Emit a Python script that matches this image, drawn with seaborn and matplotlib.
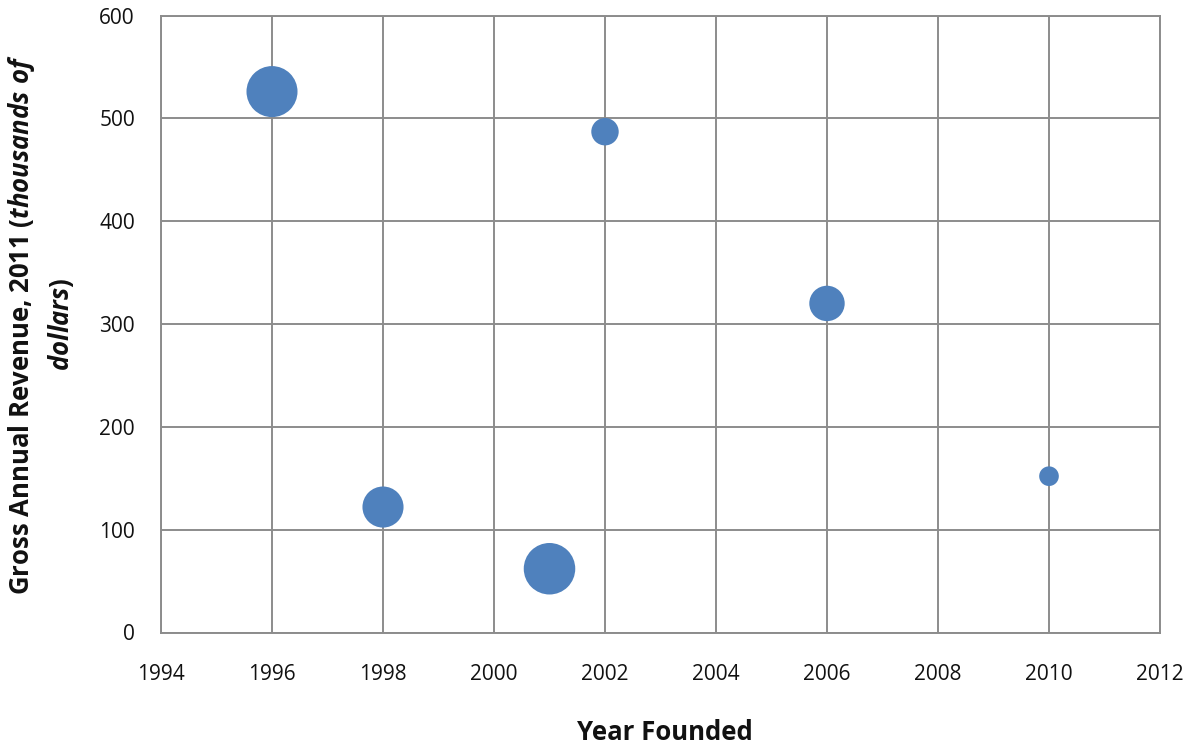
import matplotlib
matplotlib.use("Agg")
import matplotlib.pyplot as plt
import seaborn as sns
import pandas as pd

# Data
years = [1996, 1998, 2001, 2002, 2006, 2010]
revenue = [526, 122, 62, 487, 320, 152]
bubble_size = [27, 17.5, 27.5, 7.8, 13, 4]
x_ticks = [1994, 1996, 1998, 2000, 2002, 2004, 2006, 2008, 2010, 2012]
y_ticks = [0, 100, 200, 300, 400, 500, 600]

df = pd.DataFrame({"year": years, "revenue": revenue, "size": bubble_size})

sns.set_style("white")
plt.rcParams["font.family"] = ["Open Sans", "DejaVu Sans"]
plt.rcParams["mathtext.fontset"] = "custom"
plt.rcParams["mathtext.it"] = "Open Sans:italic:bold"
plt.rcParams["mathtext.rm"] = "Open Sans:bold"

fig = plt.figure(figsize=(11.96, 7.45), dpi=100)
ax = fig.add_axes([161 / 1196, 1 - 632.5 / 745, (1160 - 161) / 1196, (632.5 - 15.5) / 745])

grid_color = "#8c8c8c"
sns.scatterplot(data=df, x="year", y="revenue", size="size",
                sizes=(0, 1400), size_norm=(0, 28),
                color="#4F81BD", edgecolor="none", alpha=1.0,
                legend=False, ax=ax, zorder=3)

ax.set_xlim(1994, 2012)
ax.set_ylim(0, 600)
ax.set_xticks(x_ticks)
ax.set_yticks(y_ticks)
ax.set_xticklabels([str(v) for v in x_ticks], fontsize=15, color="#111111")
ax.set_yticklabels([str(v) for v in y_ticks], fontsize=15, color="#111111")
ax.grid(True, color=grid_color, linewidth=1.4)
ax.set_axisbelow(True)
for side in ["left", "bottom", "top", "right"]:
    ax.spines[side].set_color(grid_color)
    ax.spines[side].set_linewidth(1.4)
ax.tick_params(axis="both", which="both", length=6.8, width=1.4, color=grid_color,
               direction="out")
ax.tick_params(axis="y", pad=12)
ax.tick_params(axis="x", pad=16)

ax.set_xlabel("Year Founded", fontsize=18.5, fontweight="bold", color="#111111")
ax.xaxis.set_label_coords((665 - 161) / 999, (632.5 - 740) / 617)
ax.xaxis.label.set_verticalalignment("baseline")

ax.set_ylabel("Gross Annual Revenue, 2011 ($\\mathit{thousands\\ of}$\n$\\mathit{dollars}$)",
              fontsize=18.5, fontweight="bold", linespacing=1.4,
              color="#111111")
ax.yaxis.set_label_coords((76 - 161) / 999, 0.5)

fig.savefig("out.png", dpi=100)
